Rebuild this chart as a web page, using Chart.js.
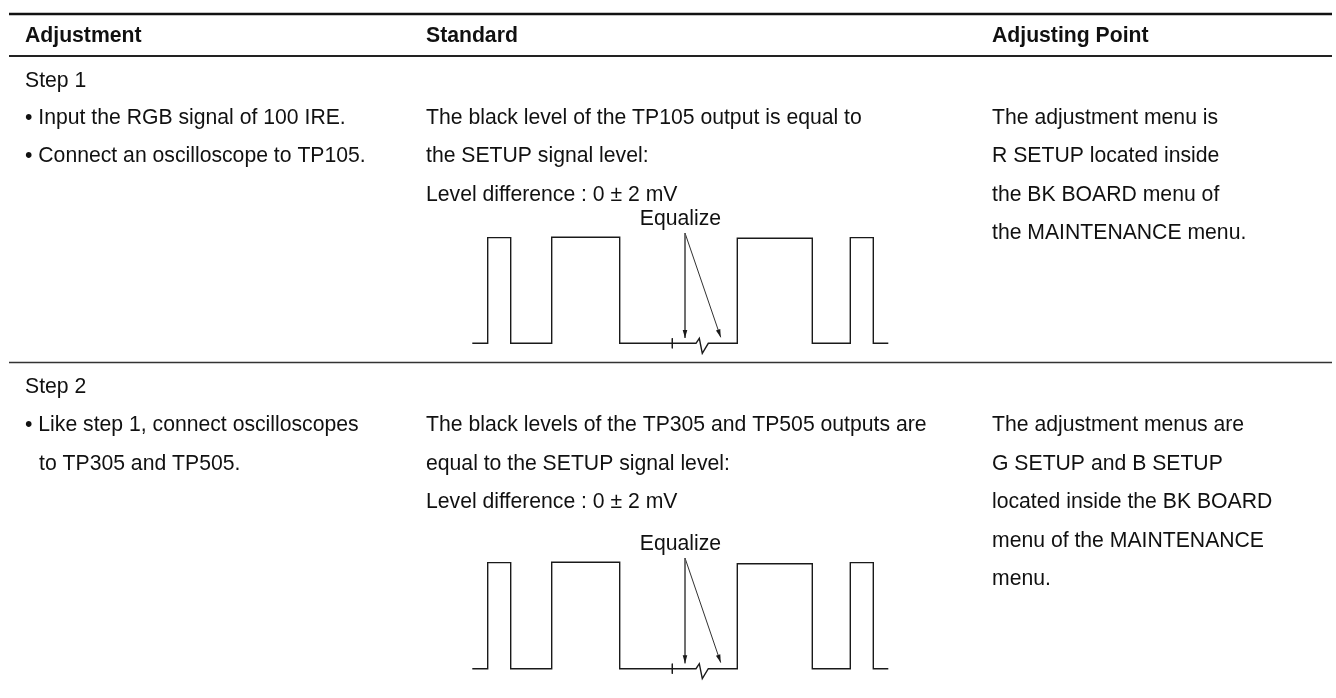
<!DOCTYPE html>
<html>
<head>
<meta charset="utf-8">
<title>Adjustment table</title>
<script src="https://cdn.jsdelivr.net/npm/chart.js@4"></script>
<style>
  html, body { margin: 0; padding: 0; background: #fff; }
  canvas { display: block; }
</style>
</head>
<body>
<canvas id="tabla" width="1336" height="698"></canvas>
<script>
// waveform, step 1 and step 2
const waveX = [472.3, 487.7, 487.7, 510.7, 510.7, 551.7, 551.7, 619.7, 619.7, 696, 699.3, 702.3, 708.3, 737.3, 737.3, 812.3, 812.3, 850.3, 850.3, 873.3, 873.3, 888.3];
const wave1Y = [343.3, 343.3, 237.6, 237.6, 343.3, 343.3, 237.3, 237.3, 343.3, 343.3, 338.3, 353.3, 343.3, 343.3, 238.3, 238.3, 343.3, 343.3, 237.6, 237.6, 343.3, 343.3];
const wave2Y = [668.7, 668.7, 562.6, 562.6, 668.7, 668.7, 562.3, 562.3, 668.7, 668.7, 663.7, 678.7, 668.7, 668.7, 563.7, 563.7, 668.7, 668.7, 562.6, 562.6, 668.7, 668.7];

const tickX = [672.3, 672.3];
const tick1Y = [338.3, 348.3];
const tick2Y = [663.7, 673.7];

// arrows from the Equalize label: start, then tips
const arrowFromX = 685;
const arrowTipX = [685, 720.7];
const arrow1Y = [233, 338, 337.3];
const arrow2Y = [558, 663.3, 662.6];

const ruleX = [9, 1332];
const ruleY = [14, 56, 362.5];

const headers = ["Adjustment", "Standard", "Adjusting Point"];
const step1Title = "Step 1";
const step1Labels = ["• Input the RGB signal of 100 IRE.", "• Connect an oscilloscope to TP105."];
const step1Standard = ["The black level of the TP105 output is equal to", "the SETUP signal level:", "Level difference : 0 ± 2 mV"];
const step1Point = ["The adjustment menu is", "R SETUP located inside", "the BK BOARD menu of", "the MAINTENANCE menu."];
const step2Title = "Step 2";
const step2Labels = ["• Like step 1, connect oscilloscopes"];
const step2Indented = ["to TP305 and TP505."];
const step2Standard = ["The black levels of the TP305 and TP505 outputs are", "equal to the SETUP signal level:", "Level difference : 0 ± 2 mV"];
const step2Point = ["The adjustment menus are", "G SETUP and B SETUP", "located inside the BK BOARD", "menu of the MAINTENANCE", "menu."];
const equalizeLabel = "Equalize";

const COL_1 = 25, COL_1_INDENT = 39, COL_2 = 426, COL_3 = 992;
const ROWS_1 = [123.5, 162, 200.5, 239];
const ROWS_2 = [431, 469.5, 508, 546.5, 585];
const FONT = "21.2px 'Liberation Sans', Arial, sans-serif";
const INK = "#1a1a1a";

function toPoints(xs, ys) {
  return xs.map((x, i) => ({ x: x, y: ys[i] }));
}

function lineSet(points, width, color) {
  return {
    data: points,
    showLine: true,
    borderColor: color || INK,
    borderWidth: width || 1.4,
    pointRadius: 0,
    tension: 0,
    fill: false,
  };
}

const datasets = [
  lineSet(toPoints(ruleX, [ruleY[0], ruleY[0]]), 2.4, "#111"),
  lineSet(toPoints(ruleX, [ruleY[1], ruleY[1]]), 2, "#222"),
  lineSet(toPoints(ruleX, [ruleY[2], ruleY[2]]), 1.4, "#333"),
  lineSet(toPoints(waveX, wave1Y)),
  lineSet(toPoints(waveX, wave2Y)),
  lineSet(toPoints(tickX, tick1Y), 1),
  lineSet(toPoints(tickX, tick2Y), 1),
];
[arrow1Y, arrow2Y].forEach((ys) => {
  arrowTipX.forEach((tipX, i) => {
    datasets.push(lineSet(toPoints([arrowFromX, tipX], [ys[0], ys[i + 1]]), 0.9, i === 0 ? "#555" : INK));
  });
});

// small filled heads at the end of the Equalize arrows
const arrowHeads = {
  id: "arrowHeads",
  afterDatasetsDraw(chart) {
    const { ctx, scales } = chart;
    ctx.save();
    ctx.fillStyle = INK;
    [arrow1Y, arrow2Y].forEach((ys) => {
      arrowTipX.forEach((tipX, i) => {
        const x1 = scales.x.getPixelForValue(arrowFromX), y1 = scales.y.getPixelForValue(ys[0]);
        const x2 = scales.x.getPixelForValue(tipX), y2 = scales.y.getPixelForValue(ys[i + 1]);
        const a = Math.atan2(y2 - y1, x2 - x1);
        ctx.save();
        ctx.translate(x2, y2);
        ctx.rotate(a);
        ctx.beginPath();
        ctx.moveTo(0, 0);
        ctx.lineTo(-8, -2.3);
        ctx.lineTo(-8, 2.3);
        ctx.closePath();
        ctx.fill();
        ctx.restore();
      });
    });
    ctx.restore();
  },
};

const tableText = {
  id: "tableText",
  afterDraw(chart) {
    const { ctx } = chart;
    const put = (lines, x, rows) => lines.forEach((t, i) => ctx.fillText(t, x, rows[i]));
    ctx.save();
    ctx.fillStyle = "#111";
    ctx.textBaseline = "alphabetic";

    ctx.font = "bold " + FONT;
    ctx.fillText(headers[0], COL_1, 41.7);
    ctx.fillText(headers[1], COL_2, 41.7);
    ctx.fillText(headers[2], COL_3, 41.7);

    ctx.font = FONT;
    ctx.fillText(step1Title, COL_1, 86.5);
    put(step1Labels, COL_1, ROWS_1);
    put(step1Standard, COL_2, ROWS_1);
    put(step1Point, COL_3, ROWS_1);
    ctx.fillText(step2Title, COL_1, 393);
    put(step2Labels, COL_1, ROWS_2);
    put(step2Indented, COL_1_INDENT, ROWS_2.slice(1));
    put(step2Standard, COL_2, ROWS_2);
    put(step2Point, COL_3, ROWS_2);
    ctx.textAlign = "center";
    ctx.fillText(equalizeLabel, 680.5, 224.5);
    ctx.fillText(equalizeLabel, 680.5, 550);
    ctx.restore();
  },
};

new Chart(document.getElementById("tabla"), {
  type: "scatter",
  data: { datasets: datasets },
  plugins: [arrowHeads, tableText],
  options: {
    responsive: false,
    animation: false,
    layout: { padding: 0 },
    plugins: {
      legend: { display: false },
      title: { display: false },
      tooltip: { enabled: false },
    },
    scales: {
      x: { type: "linear", min: 0, max: 1336, display: false },
      y: { type: "linear", min: 0, max: 698, reverse: true, display: false },
    },
  },
});
</script>
</body>
</html>
